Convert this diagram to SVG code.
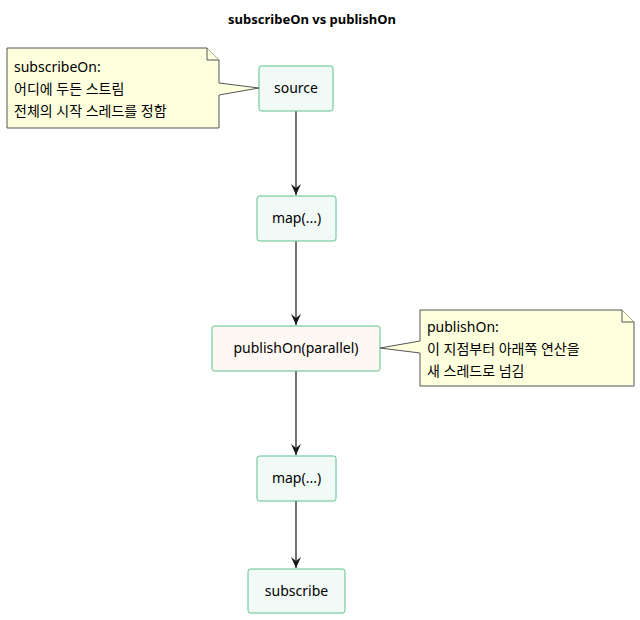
<svg xmlns="http://www.w3.org/2000/svg" width="640" height="620" viewBox="0 0 640 620">
<style>
text{font-family:"Noto Sans","Noto Sans CJK KR",sans-serif;font-size:14px;fill:#000}
.n{fill:#F1FAF6;stroke:#5DC08A;stroke-width:1}
.note{fill:#FEFFDD;stroke:#555;stroke-width:1}
.c{stroke:#181818;stroke-width:1.2;fill:none}
</style>
<defs><marker id="a" viewBox="0 0 12 12" refX="11" refY="6" markerWidth="12" markerHeight="12" orient="auto" markerUnits="userSpaceOnUse"><path d="M0,1 L11,6 L0,11 L4,6 Z" fill="#181818"/></marker></defs>
<rect width="640" height="620" fill="#fff"/>
<text x="312" y="24" text-anchor="middle" style="font-weight:bold;font-size:13px">subscribeOn vs publishOn</text>
<g id="connectors">
<line class="c" x1="296" y1="111" x2="296" y2="195" marker-end="url(#a)"/>
<line class="c" x1="296" y1="241" x2="296" y2="325" marker-end="url(#a)"/>
<line class="c" x1="296" y1="371" x2="296" y2="455" marker-end="url(#a)"/>
<line class="c" x1="296" y1="501" x2="296" y2="568" marker-end="url(#a)"/>
</g>
<g id="source"><rect class="n" x="259" y="66" width="74" height="45" rx="2.5"/><text x="296" y="93" text-anchor="middle">source</text></g>
<g id="map1"><rect class="n" x="257" y="196" width="79" height="45" rx="2.5"/><text x="296.5" y="223" text-anchor="middle">map(...)</text></g>
<g id="publishOn"><rect x="212" y="326" width="168" height="45" rx="2.5" fill="#FDF8F3" stroke="#5DC08A"/><text x="296" y="353" text-anchor="middle">publishOn(parallel)</text></g>
<g id="map2"><rect class="n" x="257" y="456" width="79" height="45" rx="2.5"/><text x="296.5" y="483" text-anchor="middle">map(...)</text></g>
<g id="subscribe"><rect class="n" x="248" y="569" width="97" height="44" rx="2.5"/><text x="296.5" y="596" text-anchor="middle">subscribe</text></g>
<g id="note1">
<path class="note" d="M7,48 H207 L219,60 V83 L259,88 L219,95 V128 H7 Z"/>
<path class="note" d="M207,48 V60 H219"/>
<text x="14" y="72">subscribeOn:</text>
<text x="14" y="94">어디에 두든 스트림</text>
<text x="14" y="116">전체의 시작 스레드를 정함</text>
</g>
<g id="note2">
<path class="note" d="M420,310 H622 L634,322 V386 H420 V353 L380,348 L420,341 Z"/>
<path class="note" d="M622,310 V322 H634"/>
<text x="427" y="332">publishOn:</text>
<text x="427" y="354">이 지점부터 아래쪽 연산을</text>
<text x="427" y="376">새 스레드로 넘김</text>
</g>
</svg>
